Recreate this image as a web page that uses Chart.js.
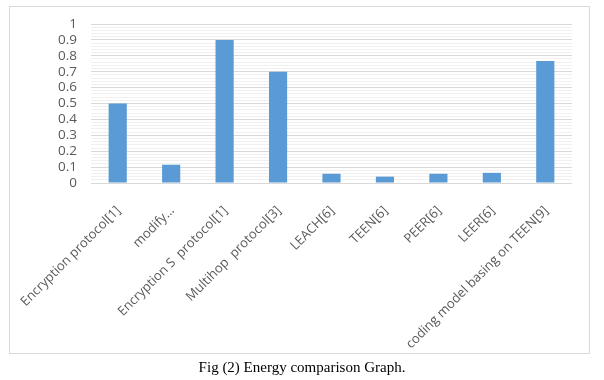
<!DOCTYPE html>
<html>
<head>
<meta charset="utf-8">
<script src="https://cdn.jsdelivr.net/npm/chart.js@4/dist/chart.umd.min.js"></script>
<style>
html,body{margin:0;padding:0;background:#fff;}
#wrap{position:relative;width:604px;height:380px;}
</style>
</head>
<body>
<div id="wrap"><canvas id="c" width="604" height="380"></canvas></div>
<script>
const categories = [
  "Encryption protocol[1]",
  "modify…",
  "Encryption S  protocol[1]",
  "Multihop  protocol[3]",
  "LEACH[6]",
  "TEEN[6]",
  "PEER[6]",
  "LEER[6]",
  "coding model basing on TEEN[9]"
];
const energyValues = [0.5, 0.115, 0.9, 0.7, 0.058, 0.04, 0.058, 0.064, 0.768];
const yTickValues = [0, 0.1, 0.2, 0.3, 0.4, 0.5, 0.6, 0.7, 0.8, 0.9, 1];
const caption = "Fig (2) Energy comparison Graph.";

const frameAndCaption = {
  id: 'frameAndCaption',
  beforeDraw(chart) {
    const ctx = chart.ctx;
    ctx.save();
    ctx.fillStyle = '#fff';
    ctx.fillRect(0, 0, chart.width, chart.height);
    ctx.strokeStyle = '#d9d9d9';
    ctx.lineWidth = 1;
    ctx.strokeRect(9.5, 6.5, 580, 347);
    ctx.fillStyle = '#000';
    ctx.font = '15px "Liberation Serif", "Times New Roman", serif';
    ctx.textAlign = 'center';
    ctx.textBaseline = 'alphabetic';
    ctx.fillText(caption, 302, 372);
    ctx.restore();
  }
};

new Chart(document.getElementById('c'), {
  type: 'bar',
  data: {
    labels: categories,
    datasets: [{
      data: energyValues,
      backgroundColor: '#5b9bd5',
      borderWidth: 0,
      categoryPercentage: 1,
      barPercentage: 0.34
    }]
  },
  plugins: [frameAndCaption],
  options: {
    responsive: false,
    animation: false,
    devicePixelRatio: 1,
    layout: { padding: { left: 20, right: 32, top: 24, bottom: 12 } },
    plugins: { legend: { display: false }, tooltip: { enabled: false }, title: { display: false } },
    scales: {
      x: {
        grid: { display: false },
        border: { display: false },
        ticks: {
          autoSkip: false,
          minRotation: 45,
          maxRotation: 45,
          color: '#595959',
          padding: 12,
          labelOffset: 1,
          font: { family: '"Open Sans", "Noto Sans", sans-serif', size: 13 }
        },
        afterFit(scale) { scale.height = 185; }
      },
      y: {
        min: 0,
        max: 1,
        border: { display: false },
        afterBuildTicks(scale) {
          const t = [];
          for (let i = 0; i <= 50; i++) t.push({ value: i / 50 });
          scale.ticks = t;
        },
        grid: {
          drawTicks: false,
          color(ctx) {
            const v = Math.round(ctx.tick.value * 100);
            return v % 10 === 0 ? '#d9d9d9' : '#f0f0f0';
          },
          lineWidth: 1
        },
        ticks: {
          autoSkip: false,
          padding: 14,
          color: '#595959',
          font: { family: '"Open Sans", "Noto Sans", sans-serif', size: 13.5 },
          callback(value) {
            const r = Math.round(value * 100);
            if (r % 10 !== 0) return '';
            const idx = r / 10;
            return String(yTickValues[idx]);
          }
        },
        afterFit(scale) { scale.width = 71; }
      }
    }
  }
});
</script>
</body>
</html>
